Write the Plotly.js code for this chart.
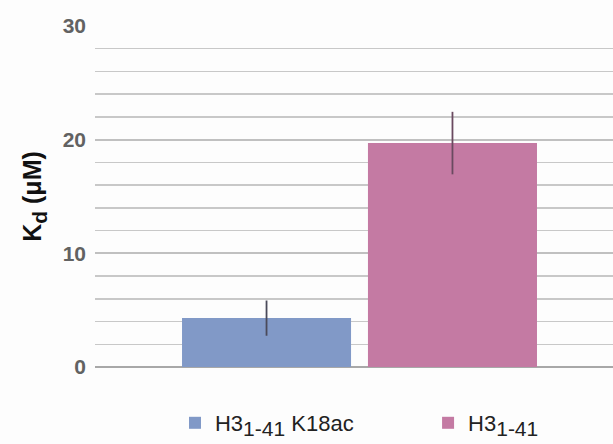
<!DOCTYPE html>
<html>
<head>
<meta charset="utf-8">
<script src="https://cdn.plot.ly/plotly-3.0.1.min.js"></script>
<style>html,body{margin:0;padding:0;background:#fdfdfd;}</style>
</head>
<body>
<div id="chart" style="width:613px;height:444px;"></div>
<script>
const category = ['Kd'];
const seriesNames = ['H3<sub><span style="font-size:21px">1-41</span></sub> K18ac', 'H3<sub><span style="font-size:21px">1-41</span></sub>'];
const kdK18ac = [4.3];
const kdK18acErr = [1.55];
const kdUnmod = [19.7];
const kdUnmodErr = [2.75];
const yTickVals = [0, 10, 20, 30];
const yTickText = ['0', '10', '20', '30'];

const traces = [
  {
    type: 'bar', name: seriesNames[0], x: category, y: kdK18ac, legend: 'legend',
    marker: {color: '#8199c7'},
    error_y: {type: 'data', array: kdK18acErr, visible: true, color: '#4a4a5a', thickness: 1.8, width: 0}
  },
  {
    type: 'bar', name: seriesNames[1], x: category, y: kdUnmod, legend: 'legend2',
    marker: {color: '#c47aa3'},
    error_y: {type: 'data', array: kdUnmodErr, visible: true, color: '#6a4a60', thickness: 1.8, width: 0}
  }
];

const legendCommon = {
  xanchor: 'left', yanchor: 'middle',
  font: {size: 22, color: '#222', family: 'Liberation Sans, Arial, sans-serif'},
  itemwidth: 30, bgcolor: 'rgba(0,0,0,0)'
};

const layout = {
  width: 613, height: 444,
  margin: {l: 95, r: 0, t: 26, b: 76},
  paper_bgcolor: '#fdfdfd', plot_bgcolor: '#fdfdfd',
  font: {family: 'Liberation Sans, Arial, sans-serif', color: '#222'},
  barmode: 'group', bargap: 0.297, bargroupgap: 0.091,
  showlegend: true,
  legend: Object.assign({}, legendCommon, {x: 0.1544, y: -0.164}),
  legend2: Object.assign({}, legendCommon, {x: 0.643, y: -0.164}),
  xaxis: {type: 'category', range: [-0.5, 0.4792], showticklabels: false, showgrid: false,
          zeroline: false, showline: false, ticks: ''},
  yaxis: {range: [0, 30], tickvals: yTickVals, ticktext: yTickText,
          tickfont: {size: 21, color: '#626262', family: 'Liberation Sans, Arial, sans-serif', weight: 'bold'},
          showgrid: true, gridcolor: '#c0c0c0', gridwidth: 1.7,
          minor: {dtick: 2, showgrid: true, gridcolor: '#c8c8c8', gridwidth: 1.5, ticks: ''},
          zeroline: true, zerolinecolor: '#a8a8a8', zerolinewidth: 1.7,
          showline: false, ticks: '', ticklabelstandoff: 8,
          title: {text: '<b>K<sub><span style="font-size:21px">d</span></sub> (μM)</b>', font: {size: 25, color: '#111'}, standoff: 13}}
};

Plotly.newPlot('chart', traces, layout, {displayModeBar: false, staticPlot: true});
</script>
</body>
</html>
